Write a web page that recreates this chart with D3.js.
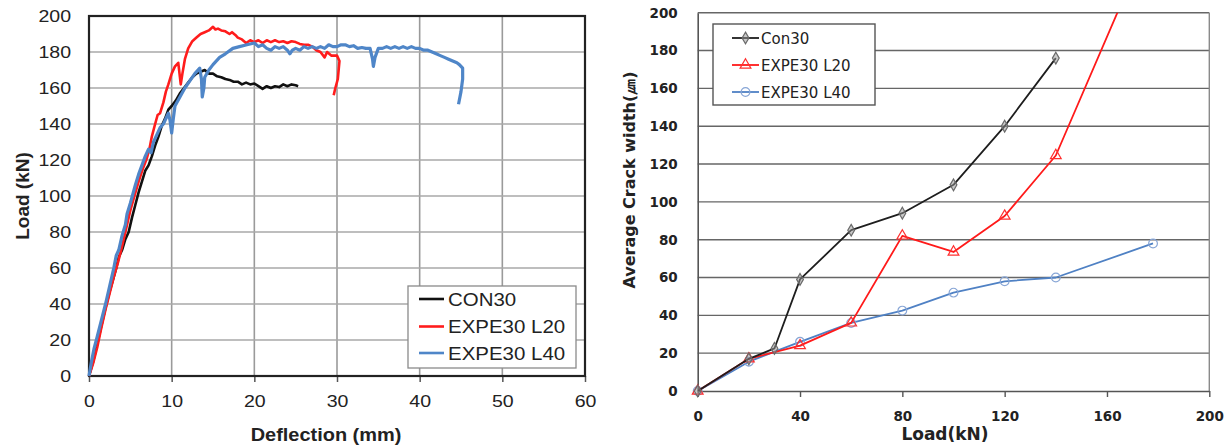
<!DOCTYPE html>
<html><head><meta charset="utf-8">
<script src="https://cdn.jsdelivr.net/npm/d3@7"></script>
<style>body{margin:0;background:#fff}svg{display:block}</style>
</head><body>
<svg id="c" width="1228" height="447"></svg>
<script>
// ---------- Left chart data: [deflection (mm), load (kN)] ----------
const con30Curve = [[0,0],[0.5,8],[1,18],[1.5,28],[2,38],[2.5,47],[3,55],[3.3,60],[3.6,66],[4,70],[4.4,76],[4.8,80],[5.2,88],[5.6,95],[6,102],[6.4,108],[6.8,114],[7.2,117],[7.6,122],[8,128],[8.4,133],[8.8,139],[9.2,143],[9.6,148],[10,150],[10.5,153],[11,157],[11.5,160],[12,163],[12.5,166],[13,168],[13.5,169],[14,170],[14.5,168],[15,168],[15.5,166.5],[16,166],[16.5,165],[17,164.5],[17.5,163.5],[18,163.5],[18.5,162],[19,163],[19.5,162],[20,162.5],[20.5,161],[21,159.5],[21.5,161],[22,160],[22.5,161],[23,160.5],[23.5,162],[24,161],[24.5,162],[25,161.5],[25.3,161]];
const l20Curve = [[0,0],[0.5,7],[1,16],[1.5,27],[2,37],[2.5,46],[3,55],[3.5,63],[4,72],[4.5,82],[5,92],[5.5,100],[6,108],[6.5,115],[7,121],[7.3,126],[7.6,133],[8,140],[8.3,145],[8.6,146],[9,152],[9.3,158],[9.6,162],[10,168],[10.4,172],[10.8,174],[11.0,166],[11.1,162],[11.3,168],[11.6,176],[12,182],[12.5,186],[13,188],[13.5,190],[14,191],[14.5,192],[15,194],[15.3,192.5],[15.6,193],[16,192],[16.5,191.5],[17,190],[17.3,191],[17.7,189.5],[18,188],[18.5,187],[19,185],[19.5,186.5],[20,185.5],[20.5,186.5],[21,185],[21.5,186.5],[22,185.5],[22.5,186.5],[23,185.5],[23.5,186],[24,185],[24.5,186],[25,185.5],[25.5,184.5],[26,184],[26.5,184],[27,183],[27.5,181],[28,180],[28.5,177],[28.8,180],[29.3,178],[30,178],[30.3,175],[30.1,165],[29.8,160],[29.6,156]];
const l40Curve = [[0,0],[0.3,8],[0.6,15],[1,22],[1.5,31],[2,40],[2.5,50],[3,60],[3.3,67],[3.6,70],[4,78],[4.4,84],[4.6,90],[5,96],[5.3,101],[5.6,106],[6,112],[6.4,117],[6.8,122],[7.2,126],[7.5,124],[7.8,130],[8.2,134],[8.6,138],[9,140],[9.3,143],[9.6,146],[9.8,142],[10,135],[10.2,143],[10.4,150],[11,155],[11.6,160],[12.2,164],[12.8,168],[13.4,171],[13.6,165],[13.7,155],[13.9,160],[14,166],[14.5,170],[15,173],[15.8,177],[16.5,179],[17.4,182],[18.2,183],[19.1,184],[20,185],[20.5,183],[21,184],[21.5,182],[22,181],[22.5,183],[23,182],[23.5,183],[24,181],[24.3,179],[24.6,181],[25,182],[25.5,181],[26,183],[26.5,182],[27,183],[27.5,182],[28,183],[28.5,182],[29,184],[29.5,183],[30,183],[30.5,184],[31,184],[31.5,183],[32,183.5],[32.5,182],[33,182.5],[33.5,182],[34,182],[34.3,176],[34.4,172],[34.6,177],[35,182],[35.5,182],[36,183],[36.5,182],[37,183],[37.5,182],[38,183],[38.5,182],[39,183],[39.5,182],[40,182],[40.5,181],[41,181],[41.5,180],[42,179],[42.5,178],[43,177],[43.5,176],[44,175],[44.5,174],[44.8,173],[45.2,171],[45.2,165],[45,158],[44.7,151]];
const leftSeriesNames = ["CON30","EXPE30 L20","EXPE30 L40"];
const leftXTicks = [0,10,20,30,40,50,60];
const leftYTicks = [0,20,40,60,80,100,120,140,160,180,200];

// ---------- Right chart data ----------
const rightSeriesNames = ["Con30","EXPE30 L20","EXPE30 L40"];
const con30Load  = [0,20,30,40,60,80,100,120,140];
const con30Crack = [0,17,22.5,59,85,94,109,140,176];
const l20Load  = [0,20,40,60,80,100,120,140,180];
const l20Crack = [0,17,24,36,82,73.5,92.5,124.5,250];
const l40Load  = [0,20,40,60,80,100,120,140,178];
const l40Crack = [0,15.5,26,36,42.5,52,58,60,78];
const rightXTicks = [0,40,80,120,160,200];
const rightYTicks = [0,20,40,60,80,100,120,140,160,180,200];

const svg = d3.select("#c");
svg.append("rect").attr("width",1228).attr("height",447).attr("fill","#fff");

// ================= LEFT CHART =================
const xL = d3.scaleLinear().domain([0,60]).range([89,585]);
const yL = d3.scaleLinear().domain([0,200]).range([376,16]);
const leftColors = ["#111111","#ff1c1c","#4f86c8"];
const L = svg.append("g");
const lFont = "'Liberation Sans', Arial, sans-serif";

L.append("g").selectAll("line").data(leftXTicks.slice(1,-1)).join("line")
  .attr("x1",d=>xL(d)).attr("x2",d=>xL(d)).attr("y1",yL(0)).attr("y2",yL(200))
  .attr("stroke","#9a9a9a").attr("stroke-width",1.6);
L.append("g").selectAll("line").data(leftYTicks.slice(1,-1)).join("line")
  .attr("x1",xL(0)).attr("x2",xL(60)).attr("y1",d=>yL(d)).attr("y2",d=>yL(d))
  .attr("stroke","#a8a8a8").attr("stroke-width",1.6);

const lxAxis = L.append("g").attr("transform",`translate(0,${yL(0)})`)
  .call(d3.axisBottom(xL).tickValues(leftXTicks).tickSize(6).tickSizeOuter(0));
const lyAxis = L.append("g").attr("transform",`translate(${xL(0)},0)`)
  .call(d3.axisLeft(yL).tickValues(leftYTicks).tickSize(0).tickSizeOuter(0));
[lxAxis,lyAxis].forEach(a=>{a.select(".domain").remove();
  a.selectAll("line").attr("stroke","#555").attr("stroke-width",1.5);
  a.selectAll("text").attr("font-family",lFont).attr("font-size",17).attr("fill","#222");});
lxAxis.selectAll("text").attr("y",null).attr("dy",null).attr("transform","translate(0,31) scale(1.15,1)");
lyAxis.selectAll("text").attr("x",null).attr("transform","translate(-18,0) scale(1.15,1)");

L.append("rect").attr("x",xL(0)).attr("y",yL(200)).attr("width",xL(60)-xL(0)).attr("height",yL(0)-yL(200))
  .attr("fill","none").attr("stroke","#222").attr("stroke-width",2.2);

const lineL = d3.line().x(d=>xL(d[0])).y(d=>yL(d[1]));
[con30Curve,l20Curve,l40Curve].forEach((c,i)=>{
  L.append("path").datum(c).attr("d",lineL).attr("fill","none")
   .attr("stroke",leftColors[i]).attr("stroke-width",i===2?3.2:2.6).attr("stroke-linejoin","round");
});

L.append("text").attr("transform","translate(326,441) scale(1.05,1)").attr("text-anchor","middle")
  .attr("font-family",lFont).attr("font-weight","bold").attr("font-size",19).attr("fill","#222").text("Deflection (mm)");
L.append("text").attr("transform","translate(22,196) rotate(-90)").attr("text-anchor","middle").attr("dy","0.35em")
  .attr("font-family",lFont).attr("font-weight","bold").attr("font-size",19).attr("fill","#222").text("Load (kN)");

const lg = L.append("g");
lg.append("rect").attr("x",408).attr("y",286).attr("width",168).attr("height",82)
  .attr("fill","#fff").attr("stroke","#8a8a8a").attr("stroke-width",1.3);
const lRows = [299,326.5,353];
leftSeriesNames.forEach((n,i)=>{
  lg.append("line").attr("x1",419).attr("x2",444).attr("y1",lRows[i]).attr("y2",lRows[i])
    .attr("stroke",leftColors[i]).attr("stroke-width",2.6);
  lg.append("text").attr("transform",`translate(448,${lRows[i]+6.5}) scale(1.17,1)`)
    .attr("font-family",lFont).attr("font-size",17.5).attr("fill","#222").text(n);
});

// ================= RIGHT CHART =================
const xR = d3.scaleLinear().domain([0,200]).range([697.7,1209.3]);
const yR = d3.scaleLinear().domain([0,200]).range([391,12.7]);
const R = svg.append("g");
const rFont = "'DejaVu Sans', sans-serif";
const rightColors = ["#1e1e1e","#ff1a1a","#4f81c4"];
const markerColors = ["#6a6a6a","#ff3030","#88a6d6"];

R.append("g").selectAll("line").data(rightYTicks.slice(1)).join("line")
  .attr("x1",xR(0)).attr("x2",xR(200)).attr("y1",d=>yR(d)).attr("y2",d=>yR(d))
  .attr("stroke","#666").attr("stroke-width",1.4);
R.append("line").attr("x1",xR(200)).attr("x2",xR(200)).attr("y1",yR(0)).attr("y2",yR(200))
  .attr("stroke","#8a8a8a").attr("stroke-width",1.4);

const rxAxis = R.append("g").attr("transform",`translate(0,${yR(0)})`)
  .call(d3.axisBottom(xR).tickValues(rightXTicks).tickSize(6).tickSizeOuter(0));
const ryAxis = R.append("g").attr("transform",`translate(${xR(0)},0)`)
  .call(d3.axisLeft(yR).tickValues(rightYTicks).tickSize(0).tickSizeOuter(0));
[rxAxis,ryAxis].forEach(a=>{
  a.select(".domain").attr("stroke","#555").attr("stroke-width",1.6);
  a.selectAll("line").attr("stroke","#555").attr("stroke-width",1.4);
  a.selectAll("text").attr("font-family",rFont).attr("font-weight","bold").attr("font-size",13.5).attr("fill","#222");});
rxAxis.selectAll("text").attr("y",29.5).attr("dy",null);
ryAxis.selectAll("text").attr("x",-20);

svg.append("clipPath").attr("id","rclip").append("rect")
  .attr("x",xR(0)).attr("y",yR(200)).attr("width",xR(200)-xR(0)).attr("height",yR(0)-yR(200));

const rSeries = [[con30Load,con30Crack],[l20Load,l20Crack],[l40Load,l40Crack]];
const lineR = d3.line().x(d=>xR(d[0])).y(d=>yR(d[1]));
const symbols = [d3.symbolDiamond,d3.symbolTriangle,d3.symbolCircle];
const symSizes = [40,50,60];
[2,1,0].forEach(i=>{
  const pts = rSeries[i][0].map((x,k)=>[x,rSeries[i][1][k]]);
  R.append("path").datum(pts).attr("d",lineR).attr("fill","none").attr("clip-path","url(#rclip)")
    .attr("stroke",rightColors[i]).attr("stroke-width",1.8).attr("stroke-linejoin","round");
  R.append("g").selectAll("path").data(pts.filter(p=>p[1]<=200)).join("path")
    .attr("transform",d=>`translate(${xR(d[0])},${yR(d[1])})`)
    .attr("d",d3.symbol().type(symbols[i]).size(symSizes[i]))
    .attr("fill",i===0?"rgba(150,150,150,0.5)":"none").attr("stroke",markerColors[i]).attr("stroke-width",1.2);
});

R.append("text").attr("x",945).attr("y",440).attr("text-anchor","middle")
  .attr("font-family",rFont).attr("font-weight","bold").attr("font-size",17).attr("fill","#222").text("Load(kN)");
R.append("text").attr("transform","translate(629,180) rotate(-90)").attr("text-anchor","middle").attr("dy","0.35em")
  .attr("font-family",rFont).attr("font-weight","bold").attr("font-size",16).attr("fill","#222").text("Average Crack width(\u339B)");

const rg = R.append("g");
rg.append("rect").attr("x",713).attr("y",24).attr("width",162).attr("height",81)
  .attr("fill","#fff").attr("stroke","#555").attr("stroke-width",1.4);
const rRows = [38,65,92];
rightSeriesNames.forEach((n,i)=>{
  rg.append("line").attr("x1",732).attr("x2",759).attr("y1",rRows[i]).attr("y2",rRows[i])
    .attr("stroke",rightColors[i]).attr("stroke-width",1.8);
  rg.append("path").attr("transform",`translate(745.5,${rRows[i]})`)
    .attr("d",d3.symbol().type(symbols[i]).size(symSizes[i]))
    .attr("fill",i===0?"rgba(150,150,150,0.5)":"none").attr("stroke",markerColors[i]).attr("stroke-width",1.2);
  rg.append("text").attr("x",761).attr("y",rRows[i]+5.5)
    .attr("font-family",rFont).attr("font-size",15).attr("fill","#222").text(n);
});
</script>
</body></html>
